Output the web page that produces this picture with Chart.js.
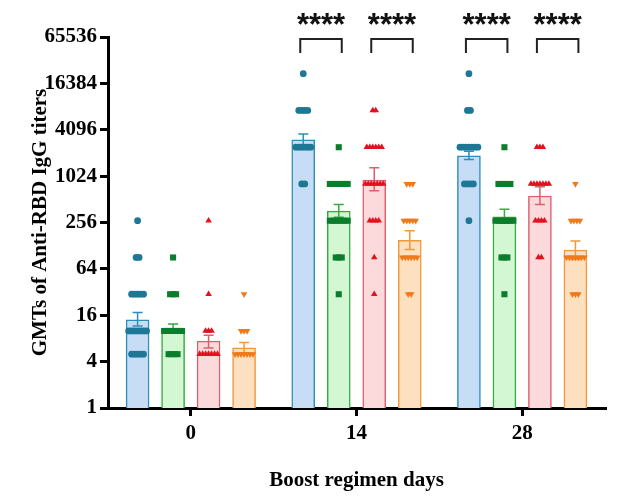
<!DOCTYPE html>
<html>
<head>
<meta charset="utf-8">
<script src="https://cdn.jsdelivr.net/npm/chart.js@4.4.1/dist/chart.umd.min.js"></script>
<style>
  html, body { margin: 0; padding: 0; background: #fff; }
</style>
</head>
<body>
<canvas id="chart" width="617" height="501"></canvas>
<script>
// categories and axis ticks
const days = ['0', '14', '28']
const yTicks = [1, 4, 16, 64, 256, 1024, 4096, 16384, 65536]
const groupNames = ['Group 1', 'Group 2', 'Group 3', 'Group 4']

// geometric mean titers (bar heights), per day
const gmtBlue = [14.0, 3020, 1880]
const gmtGreen = [10.8, 360, 303]
const gmtRed = [7.4, 910, 565]
const gmtOrange = [6.05, 150, 112]

// error bar ends
const errHiBlue = [17.4, 3600, 2150]
const errLoBlue = [11.6, 2550, 1680]
const errHiGreen = [12.3, 440, 380]
const errLoGreen = [9.5, 300, 250]
const errHiRed = [8.8, 1320, 745]
const errLoRed = [6.0, 660, 440]
const errHiOrange = [7.1, 200, 147]
const errLoOrange = [5.2, 114, 85]

// individual titers, one list per day
const ptsBlue = [
  [270, 90, 90, 30, 30, 30, 30, 30, 10, 10, 10, 10, 10, 10, 10, 5, 5, 5, 5, 5],
  [21870, 7290, 7290, 7290, 7290, 2430, 2430, 2430, 2430, 2430, 2430, 810, 810],
  [21870, 7290, 7290, 2430, 2430, 2430, 2430, 2430, 2430, 2430, 810, 810, 810, 810, 270]
]
const ptsGreen = [
  [90, 30, 30, 30, 10, 10, 10, 10, 10, 10, 10, 5, 5, 5, 5],
  [2430, 810, 810, 810, 810, 810, 810, 810, 270, 270, 270, 270, 270, 270, 270, 90, 90, 90, 30],
  [2430, 810, 810, 810, 810, 810, 270, 270, 270, 270, 270, 270, 270, 90, 90, 90, 30]
]
const ptsRed = [
  [270, 30, 10, 10, 10, 5, 5, 5, 5, 5, 5, 5],
  [7290, 7290, 2430, 2430, 2430, 2430, 2430, 2430, 810, 810, 810, 810, 810, 810, 810, 270, 270, 270, 270, 90, 30],
  [2430, 2430, 2430, 810, 810, 810, 810, 810, 810, 810, 270, 270, 270, 270, 90, 90]
]
const ptsOrange = [
  [30, 10, 10, 10, 5, 5, 5, 5, 5, 5, 5],
  [810, 810, 810, 270, 270, 270, 270, 270, 90, 90, 90, 90, 90, 90, 30, 30],
  [810, 270, 270, 270, 270, 90, 90, 90, 90, 90, 90, 90, 30, 30, 30]
]

// comparisons drawn above the bars: [day index, series a, series b, label]
const comparisons = [
  [1, 0, 1, '****'],
  [1, 2, 3, '****'],
  [2, 0, 1, '****'],
  [2, 2, 3, '****']
]

const GROUP_SPAN = 0.857   // share of a day slot taken by the four bars
const BAR_WIDTH = 23
const JITTER = 0.018
const serif = 'Liberation Serif, Times New Roman, serif'

function seriesOffset(k) {
  return (k - 1.5) * GROUP_SPAN / 4
}

function barPoints(vals, k) {
  return vals.map((v, day) => ({ x: day + seriesOffset(k), y: v }))
}

// spread equal values sideways, like a column scatter
function spread(lists, k) {
  const out = []
  lists.forEach((vals, day) => {
    const counts = {}
    vals.forEach(v => { counts[v] = (counts[v] || 0) + 1 })
    const seen = {}
    vals.forEach(v => {
      const r = seen[v] || 0
      seen[v] = r + 1
      out.push({ x: day + seriesOffset(k) + (r - (counts[v] - 1) / 2) * JITTER, y: v })
    })
  })
  return out
}

const errorBars = {
  id: 'errorBars',
  afterDatasetDraw(chart, args) {
    const ds = chart.data.datasets[args.index]
    if (!ds.errHi) return
    const y = chart.scales.y
    const ctx = chart.ctx
    ctx.save()
    ctx.strokeStyle = ds.borderColor
    ctx.lineWidth = 1.5
    args.meta.data.forEach((bar, i) => {
      const hi = y.getPixelForValue(ds.errHi[i])
      const lo = y.getPixelForValue(ds.errLo[i])
      ctx.beginPath()
      ctx.moveTo(bar.x, hi); ctx.lineTo(bar.x, lo)
      ctx.moveTo(bar.x - 5, hi); ctx.lineTo(bar.x + 5, hi)
      ctx.moveTo(bar.x - 5, lo); ctx.lineTo(bar.x + 5, lo)
      ctx.stroke()
    })
    ctx.restore()
  }
}

const brackets = {
  id: 'brackets',
  afterDraw(chart) {
    const xs = chart.scales.xs
    const top = chart.chartArea.top
    const ctx = chart.ctx
    ctx.save()
    ctx.strokeStyle = '#222'
    ctx.fillStyle = '#111'
    ctx.lineWidth = 2
    ctx.font = 'bold 31px "Liberation Sans", Arial, sans-serif'
    ctx.textAlign = 'center'
    comparisons.forEach(([day, a, b, label]) => {
      const x1 = xs.getPixelForValue(day + seriesOffset(a)) - 3
      const x2 = xs.getPixelForValue(day + seriesOffset(b)) + 3
      ctx.beginPath()
      ctx.moveTo(x1, top + 16)
      ctx.lineTo(x1, top + 2)
      ctx.lineTo(x2, top + 2)
      ctx.lineTo(x2, top + 16)
      ctx.stroke()
      const m = ctx.measureText(label)
      const mid = (m.actualBoundingBoxAscent - m.actualBoundingBoxDescent) / 2
      ctx.fillText(label, (x1 + x2) / 2, top - 18 + mid)
    })
    ctx.restore()
  }
}

const barSet = (label, vals, k, hi, lo, fill, line) => ({
  type: 'bar', label, data: barPoints(vals, k), errHi: hi, errLo: lo,
  backgroundColor: fill, borderColor: line, borderWidth: 1.5,
  barThickness: BAR_WIDTH, grouped: false,
  xAxisID: 'xs', yAxisID: 'y', order: 2
})

const dotSet = (label, pts, k, color, style, radius, rotation) => ({
  type: 'scatter', label, data: spread(pts, k),
  backgroundColor: color, borderWidth: 0, grouped: false,
  pointStyle: style, pointRadius: radius, pointRotation: rotation || 0,
  pointHoverRadius: radius,
  xAxisID: 'xs', yAxisID: 'y', order: 1
})

const axisFont = { family: serif, size: 21, weight: 'bold' }

new Chart(document.getElementById('chart'), {
  type: 'bar',
  data: {
    labels: days,
    datasets: [
      barSet(groupNames[0], gmtBlue, 0, errHiBlue, errLoBlue, '#c7ddf6', '#2f8dba'),
      barSet(groupNames[1], gmtGreen, 1, errHiGreen, errLoGreen, '#d2f7d2', '#35ab40'),
      barSet(groupNames[2], gmtRed, 2, errHiRed, errLoRed, '#fcdadc', '#d9606c'),
      barSet(groupNames[3], gmtOrange, 3, errHiOrange, errLoOrange, '#fde0c0', '#f0983a'),
      dotSet(groupNames[0], ptsBlue, 0, '#1d7795', 'circle', 3.4),
      dotSet(groupNames[1], ptsGreen, 1, '#0b7d2c', 'rect', 4.3),
      dotSet(groupNames[2], ptsRed, 2, '#e5101e', 'triangle', 3.8),
      dotSet(groupNames[3], ptsOrange, 3, '#f07a1a', 'triangle', 3.8, 180)
    ]
  },
  options: {
    responsive: false,
    animation: false,
    layout: { padding: { left: 24, right: 12, top: 37, bottom: 0 } },
    plugins: {
      legend: { display: false },
      tooltip: { enabled: false }
    },
    scales: {
      x: {
        type: 'category',
        min: 0,
        max: 2,
        offset: true,
        grid: { offset: false, drawOnChartArea: false, tickLength: 8, lineWidth: 3, color: '#000' },
        border: { color: '#000', width: 3 },
        ticks: { color: '#000', font: axisFont, padding: 5, maxRotation: 0 },
        title: { display: true, text: 'Boost regimen days', color: '#000', font: axisFont, padding: { top: 0, bottom: 8 } },
        afterFit: s => { s.height = 93 }
      },
      xs: {
        type: 'linear', min: -0.5, max: 2.5, offset: false,
        grid: { offset: false }, display: false
      },
      y: {
        type: 'logarithmic',
        min: 1,
        max: 65536,
        afterBuildTicks: s => { s.ticks = yTicks.map(v => ({ value: v })) },
        grid: { drawOnChartArea: false, tickLength: 8, lineWidth: 3, color: '#000' },
        border: { color: '#000', width: 3 },
        ticks: { color: '#000', font: axisFont, padding: 3, autoSkip: false, callback: v => String(v) },
        title: { display: true, text: 'GMTs of Anti-RBD IgG titers', color: '#000', font: axisFont, padding: { top: 4, bottom: 4 } },
        afterFit: s => { s.width = 84 }
      }
    }
  },
  plugins: [errorBars, brackets]
})
</script>
</body>
</html>
